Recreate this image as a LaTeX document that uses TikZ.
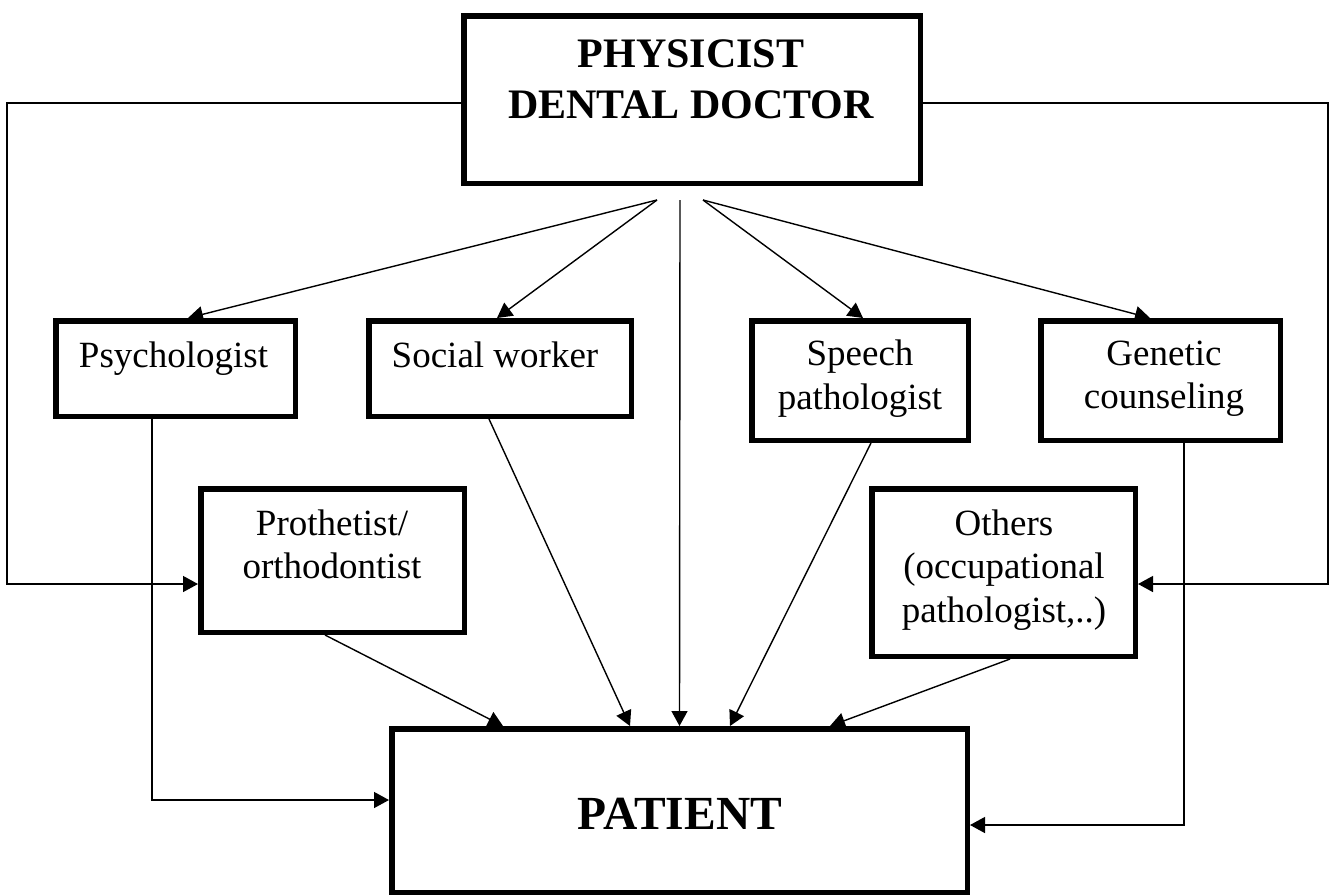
\documentclass[tikz,border=0pt]{standalone}
\usepackage{fontspec}
\setmainfont{Liberation Serif}
\usetikzlibrary{arrows.meta,calc}
\begin{document}
\begin{tikzpicture}[x=1pt,y=-1pt,
  box/.style={draw,line width=5.5pt,inner sep=0pt},
  lbl/.style={font=\fontsize{37}{43.5}\selectfont,align=center,anchor=base,inner sep=0pt},
  conn/.style={line width=1.4pt,-{Triangle[length=15pt,width=16pt]}},
  plainline/.style={line width=1.4pt}]
\useasboundingbox (0,0) rectangle (1330,895);

% boxes
\node[box,minimum width=456.5pt,minimum height=167.5pt] (top) at (692,99.5) {};
\node[box,minimum width=239.5pt,minimum height=95.5pt] (psych) at (175.5,368.5) {};
\node[box,minimum width=262.5pt,minimum height=95.5pt] (social) at (500,368.5) {};
\node[box,minimum width=216.5pt,minimum height=119.5pt] (speech) at (860,380.5) {};
\node[box,minimum width=239.5pt,minimum height=119.5pt] (genetic) at (1160.5,380.5) {};
\node[box,minimum width=263.5pt,minimum height=143.5pt] (proth) at (332.5,560.5) {};
\node[box,minimum width=263.5pt,minimum height=167.5pt] (others) at (1003.5,572.5) {};
\node[box,minimum width=575.5pt,minimum height=163.5pt] (patient) at (679.5,810.5) {};

% texts (anchor=base is the baseline of the last line)
\node[lbl,font=\fontsize{42}{51}\selectfont\bfseries] (topt) at (691,118) {PHYSICIST\\DENTAL DOCTOR};
\node[lbl] (psycht) at (173.5,367) {Psychologist};
\node[lbl] (socialt) at (495,367) {Social worker};
\node[lbl] (speecht) at (860,409) {Speech\\pathologist};
\node[lbl] (genetict) at (1164,408.5) {Genetic\\counseling};
\node[lbl] (protht) at (332,578.5) {Prothetist/\\orthodontist};
\node[lbl] (otherst) at (1004,622) {Others\\(occupational\\pathologist,..)};
\node[lbl,font=\fontsize{47.5}{57}\selectfont\bfseries] (patientt) at (680,829) {PATIENT};

% free ends
\coordinate (lc1) at (7,103);
\coordinate (lc2) at (7,584);
\coordinate (rc1) at (1328,103);
\coordinate (rc2) at (1328,584);
\coordinate (fl) at (657,200);
\coordinate (fc) at (680,200);
\coordinate (fr) at (703,200);
\coordinate (pl) at (152,800);
\coordinate (gr) at (1184,825);

% side loops
\draw[conn] (top.west |- lc1) -- (lc1) -- (lc2) -- (proth.west |- lc2);
\draw[conn] (top.east |- rc1) -- (rc1) -- (rc2) -- (others.east |- rc2);

% fan from top
\draw[conn] (fl) -- ($(psych.north)+(12.5,0)$);
\draw[conn] (fl) -- ($(social.north)+(-3,0)$);
\draw[conn] (fc) -- (patient.north);
\draw[conn] (fr) -- ($(speech.north)+(3,0)$);
\draw[conn] (fr) -- ($(genetic.north)+(-10.5,0)$);

% into patient
\draw[conn] (psych.south -| pl) -- (pl) -- (patient.west |- pl);
\draw[conn] (genetic.south -| gr) -- (gr) -- (patient.east |- gr);
\draw[conn] ($(social.south)+(-11,0)$) -- ($(patient.north)+(-49.5,0)$);
\draw[conn] ($(speech.south)+(11,0)$) -- ($(patient.north)+(50.5,0)$);
\draw[conn] ($(proth.south)+(-7.5,0)$) -- ($(patient.north)+(-176.5,0)$);
\draw[conn] ($(others.south)+(6.5,0)$) -- ($(patient.north)+(150.5,0)$);
\end{tikzpicture}
\end{document}
